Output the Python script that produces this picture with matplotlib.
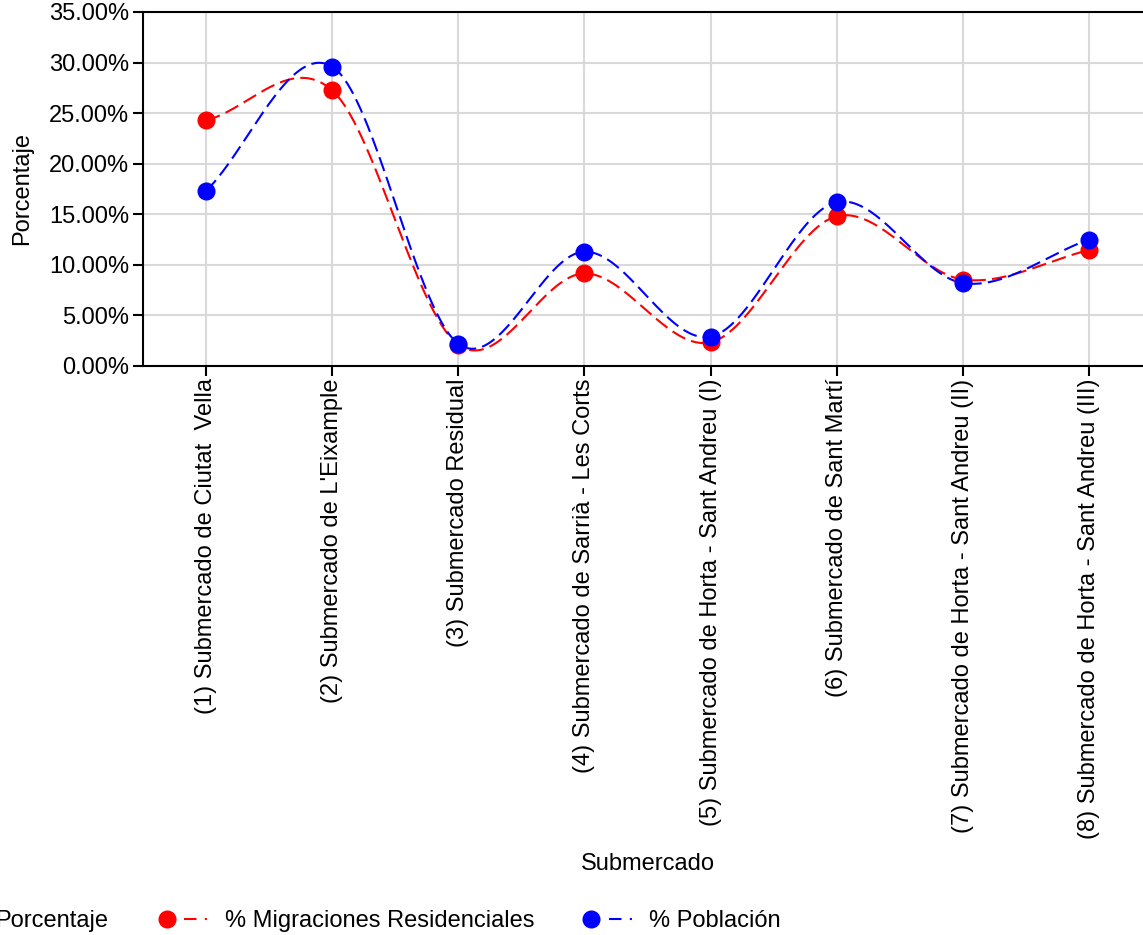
import matplotlib
matplotlib.use('Agg')
import matplotlib.pyplot as plt
import numpy as np
from matplotlib.lines import Line2D
from matplotlib.legend_handler import HandlerTuple
from matplotlib.ticker import FuncFormatter, MultipleLocator

categories = [
    '(1) Submercado de Ciutat  Vella',
    "(2) Submercado de L'Eixample",
    '(3) Submercado Residual',
    '(4) Submercado de Sarrià - Les Corts',
    '(5) Submercado de Horta - Sant Andreu (I)',
    '(6) Submercado de Sant Martí',
    '(7) Submercado de Horta - Sant Andreu (II)',
    '(8) Submercado de Horta - Sant Andreu (III)',
]
migraciones = [24.3, 27.25, 2.1, 9.15, 2.35, 14.8, 8.55, 11.45]
poblacion = [17.3, 29.6, 2.2, 11.3, 2.9, 16.2, 8.2, 12.5]

plt.rcParams['font.family'] = 'Liberation Sans'
plt.rcParams['font.size'] = 17


def catmull_rom(y, steps=100):
    # smooth curve through the points (Catmull-Rom tangents)
    y = np.asarray(y, float)
    n = len(y)
    m = np.empty(n)
    m[1:-1] = (y[2:] - y[:-2]) / 2
    m[0] = y[1] - y[0]
    m[-1] = y[-1] - y[-2]
    xs, ys = [], []
    t = np.linspace(0, 1, steps)
    h00 = 2 * t**3 - 3 * t**2 + 1
    h10 = t**3 - 2 * t**2 + t
    h01 = -2 * t**3 + 3 * t**2
    h11 = t**3 - t**2
    for i in range(n - 1):
        xs.append(i + t)
        ys.append(h00 * y[i] + h10 * m[i] + h01 * y[i + 1] + h11 * m[i + 1])
    return np.concatenate(xs), np.concatenate(ys)


fig = plt.figure(figsize=(11.43, 9.35), dpi=100)
ax = fig.add_axes([143 / 1143, 1 - 366 / 935, (1152 - 143) / 1143, (366 - 12) / 935])

x = np.arange(len(categories))

series = [(migraciones, 'red', '% Migraciones Residenciales'),
          (poblacion, 'blue', '% Población')]
handles = []
for vals, col, lab in series:
    cx, cy = catmull_rom(vals)
    ax.plot(cx, cy, color=col, lw=1.5, dashes=(7, 3), zorder=3)
    ax.plot(x, vals, 'o', color=col, ms=12, zorder=4)
    h1 = Line2D([], [], marker='o', color=col, ms=12, ls='none')
    h2 = Line2D([], [], color=col, lw=1.5, dashes=(6, 4, 1, 4))
    handles.append((h1, h2))

ax.set_xlim(-0.5, len(categories) - 0.5)
ax.set_ylim(0, 35)
ax.yaxis.set_major_locator(MultipleLocator(5))
ax.yaxis.set_major_formatter(FuncFormatter(lambda v, p: f'{v:.2f}%'))
ax.set_xticks(x)
ax.set_xticklabels(categories, rotation=90, ha='center', va='top')
ax.grid(True, color='#d9d9d9', lw=1.5)
ax.set_axisbelow(True)
for s in ax.spines.values():
    s.set_linewidth(1.5)
ax.tick_params(axis='both', direction='out', length=7, width=1.5)
ax.tick_params(axis='x', pad=2)
ax.tick_params(axis='y', pad=3)

ax.set_xlabel('Submercado', labelpad=10)
ax.set_ylabel('Porcentaje')
ax.yaxis.set_label_coords(-0.109, 0.5)

fig.text(-5 / 1143, 1 - 921 / 935, 'Porcentaje', ha='left', va='center')
fig.legend(handles, [s[2] for s in series], ncol=2, frameon=False,
           loc='center left', bbox_to_anchor=(152 / 1143, 1 - 921 / 935),
           handler_map={tuple: HandlerTuple(ndivide=None, pad=0.1)},
           handlelength=2.6, handletextpad=0.48, columnspacing=1.8,
           borderpad=0, borderaxespad=0)

fig.savefig('out.png', dpi=100)
